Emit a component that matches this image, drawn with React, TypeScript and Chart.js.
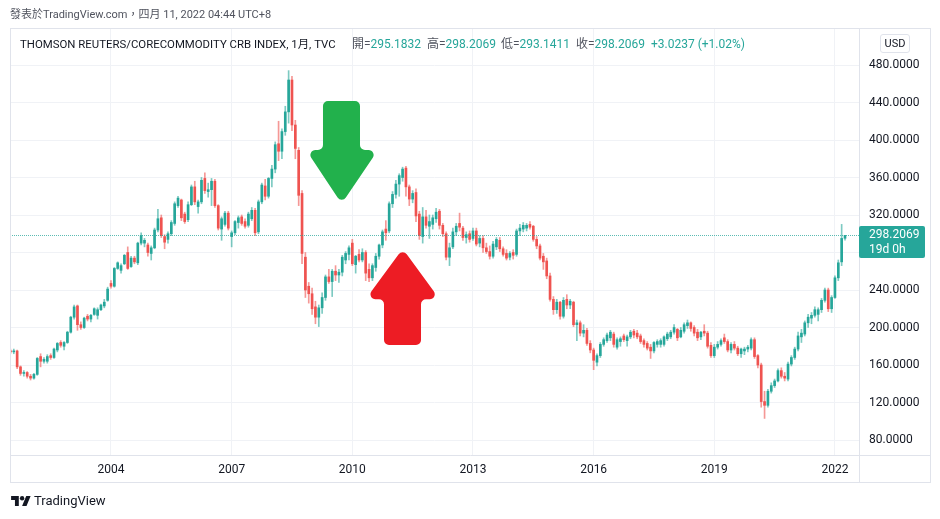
import React, { useEffect, useRef } from 'react';
import { Chart, registerables } from 'chart.js';

Chart.register(...registerables);

// ---- data (monthly candles, TR/CC CRB index) ----
const FIRST_YEAR = 2001;
const FIRST_MONTH = 7; // July 2001 is the first candle shown

const opens = [
  175, 174, 175, 158, 151, 152,
  148, 146, 150, 169, 164, 164, 170, 168, 176, 184, 180, 184,
  195, 211, 223, 203, 200, 212, 209, 214, 213, 219, 223, 229,
  247, 244, 263, 261, 268, 280, 265, 274, 269, 290, 290, 288,
  279, 285, 304, 317, 297, 294, 300, 311, 330, 336, 321, 315,
  331, 350, 329, 334, 359, 345, 347, 356, 330, 305, 310, 322,
  297, 301, 312, 318, 313, 309, 316, 325, 302, 334, 351, 340,
  359, 369, 396, 388, 409, 430, 464, 416, 389, 343, 275, 244,
  236, 222, 211, 221, 232, 254, 249, 260, 256, 259, 272, 278,
  290, 267, 278, 272, 280, 262, 253, 264, 276, 288, 305, 303,
  332, 342, 353, 360, 370, 350, 337, 344, 321, 297, 318, 308,
  310, 316, 324, 309, 300, 275, 286, 302, 311, 306, 296, 300,
  295, 303, 290, 295, 285, 281, 276, 286, 293, 284, 279, 275,
  280, 278, 303, 305, 306, 310, 308, 294, 287, 276, 271, 255,
  230, 219, 227, 212, 230, 224, 227, 203, 205, 194, 197, 183,
  176, 163, 170, 182, 186, 189, 193, 179, 185, 191, 186, 190,
  196, 194, 191, 186, 183, 179, 175, 182, 182, 182, 188, 190,
  195, 198, 190, 196, 202, 205, 200, 195, 190, 196, 194, 181,
  170, 179, 182, 189, 185, 176, 182, 178, 172, 175, 177, 178,
  187, 170, 160, 121, 117, 132, 138, 143, 154, 148, 145, 161,
  168, 177, 190, 193, 205, 210, 213, 214, 219, 229, 240, 220,
  232, 253, 270, 295.1832,
];
const highs = [
  177, 177, 176, 159, 154, 153,
  150, 151, 168, 172, 168, 171, 172, 178, 184, 186, 185, 196,
  212, 224, 224, 206, 211, 214, 214, 221, 221, 225, 230, 243,
  250, 264, 270, 268, 278, 286, 276, 276, 291, 301, 295, 290,
  287, 306, 326, 320, 299, 302, 314, 334, 340, 337, 323, 334,
  352, 356, 336, 360, 365, 354, 359, 358, 331, 318, 324, 324,
  303, 314, 319, 320, 316, 323, 328, 327, 336, 354, 358, 360,
  373, 398, 420, 412, 436, 474, 468, 421, 392, 346, 280, 248,
  242, 228, 224, 237, 256, 262, 262, 266, 262, 277, 281, 287,
  294, 277, 283, 284, 282, 268, 268, 279, 289, 304, 314, 334,
  345, 357, 364, 371, 372, 352, 346, 348, 324, 328, 325, 320,
  320, 327, 326, 311, 302, 290, 306, 311, 322, 308, 302, 303,
  306, 306, 298, 298, 290, 287, 292, 296, 296, 286, 283, 281,
  283, 305, 310, 312, 311, 313, 309, 297, 289, 279, 274, 258,
  233, 230, 228, 232, 235, 230, 228, 208, 207, 203, 199, 186,
  178, 172, 184, 189, 194, 197, 195, 189, 190, 193, 192, 197,
  198, 197, 193, 188, 185, 182, 185, 187, 188, 191, 195, 197,
  203, 199, 200, 205, 208, 206, 202, 198, 196, 203, 196, 184,
  182, 185, 188, 193, 187, 184, 185, 180, 178, 179, 181, 189,
  189, 171, 162, 132, 134, 141, 145, 156, 157, 152, 163, 170,
  179, 195, 198, 207, 214, 216, 222, 221, 231, 242, 242, 234,
  255, 272, 310, 298.2069,
];
const lows = [
  172, 172, 156, 149, 148, 146,
  144, 145, 149, 158, 162, 162, 166, 167, 174, 179, 176, 183,
  194, 209, 197, 198, 199, 207, 206, 213, 209, 218, 221, 228,
  242, 243, 262, 258, 267, 262, 264, 268, 267, 288, 286, 276,
  272, 284, 302, 296, 284, 290, 298, 309, 328, 314, 311, 313,
  330, 331, 322, 332, 343, 339, 330, 328, 304, 293, 308, 304,
  286, 299, 306, 309, 306, 307, 314, 298, 300, 332, 336, 338,
  350, 365, 378, 380, 405, 418, 410, 380, 330, 268, 232, 226,
  214, 204, 201, 215, 229, 247, 233, 250, 248, 255, 268, 272,
  266, 258, 270, 270, 250, 249, 250, 260, 273, 285, 293, 301,
  328, 338, 340, 356, 340, 330, 333, 313, 294, 290, 306, 295,
  305, 312, 305, 297, 272, 266, 284, 298, 303, 293, 290, 291,
  293, 287, 286, 280, 279, 273, 274, 283, 281, 276, 272, 272,
  273, 276, 298, 302, 303, 305, 292, 284, 272, 262, 252, 228,
  214, 215, 209, 210, 220, 220, 201, 186, 191, 190, 181, 173,
  155, 159, 168, 180, 184, 186, 179, 177, 180, 185, 180, 188,
  189, 188, 183, 179, 176, 167, 173, 179, 179, 180, 186, 188,
  193, 186, 189, 194, 199, 196, 191, 186, 187, 191, 178, 168,
  168, 177, 180, 183, 174, 173, 176, 170, 168, 171, 174, 176,
  167, 157, 115, 103, 115, 130, 136, 142, 146, 143, 143, 159,
  166, 175, 184, 191, 200, 204, 211, 207, 216, 227, 217, 216,
  231, 250, 266, 293.1411,
];
const closes = [
  174, 175, 158, 151, 152, 148,
  146, 150, 167, 164, 166, 169, 168, 177, 183, 181, 184, 195,
  211, 222, 203, 200, 210, 209, 213, 220, 219, 224, 227, 241,
  244, 263, 269, 266, 277, 263, 274, 270, 290, 298, 293, 280,
  285, 304, 316, 298, 291, 300, 312, 332, 338, 317, 313, 331,
  350, 334, 334, 357, 346, 347, 356, 330, 306, 316, 322, 306,
  301, 313, 317, 311, 308, 321, 325, 301, 334, 352, 340, 359,
  369, 395, 388, 409, 430, 464, 416, 391, 341, 279, 240, 236,
  220, 211, 221, 232, 254, 249, 260, 256, 259, 275, 279, 285,
  268, 276, 272, 280, 258, 253, 266, 276, 288, 302, 301, 332,
  342, 353, 362, 369, 350, 337, 343, 319, 298, 318, 309, 313,
  317, 323, 309, 300, 275, 285, 302, 308, 307, 296, 299, 294,
  303, 289, 295, 285, 281, 276, 289, 294, 284, 278, 274, 279,
  277, 303, 306, 309, 309, 307, 294, 287, 274, 270, 255, 230,
  219, 227, 212, 229, 224, 228, 203, 205, 194, 197, 183, 176,
  165, 170, 182, 187, 192, 195, 182, 187, 188, 187, 190, 195,
  192, 190, 185, 182, 178, 175, 184, 185, 186, 190, 193, 195,
  200, 189, 197, 203, 205, 199, 194, 189, 195, 194, 180, 170,
  179, 182, 186, 185, 176, 182, 178, 172, 177, 177, 179, 187,
  169, 160, 121, 117, 132, 138, 143, 154, 148, 146, 161, 168,
  177, 191, 194, 205, 211, 213, 219, 219, 229, 240, 220, 232,
  253, 269, 295, 298.2069,
];

const xTickYears = [2004, 2007, 2010, 2013, 2016, 2019, 2022];
const yTickValues = [80, 120, 160, 200, 240, 280, 320, 360, 400, 440, 480];
const LAST_PRICE = 298.2069;
const COUNTDOWN = '19d 0h';

// annotation arrows, in data units (year, index value)
const greenArrow = { tipT: 2009.736, tipV: 332, baseV: 389.3, headL: 2008.85, headR: 2010.64, shaftL: 2009.271, shaftR: 2010.191, endV: 441.5 };
const redArrow = { tipT: 2011.253, tipV: 284, baseV: 230.1, headL: 2010.33, headR: 2012.17, shaftL: 2010.788, shaftR: 2011.708, endV: 181.3 };

const UP = '#26a69a';
const DOWN = '#ef5350';
const UP_WICK = 'rgba(38,166,154,0.6)';
const DOWN_WICK = 'rgba(239,83,80,0.6)';
const GRID = '#f0f2f6';
const FRAME = '#e0e3eb';
const TEXT = '#131722';

const times = closes.map((_, i) => FIRST_YEAR + (FIRST_MONTH - 1 + i) / 12);

function roundedPoly(ctx: CanvasRenderingContext2D, pts: number[][], r: number) {
  const n = pts.length;
  ctx.beginPath();
  for (let i = 0; i < n; i++) {
    const p0 = pts[(i - 1 + n) % n];
    const p1 = pts[i];
    const p2 = pts[(i + 1) % n];
    if (i === 0) ctx.moveTo((p0[0] + p1[0]) / 2, (p0[1] + p1[1]) / 2);
    ctx.arcTo(p1[0], p1[1], (p1[0] + p2[0]) / 2, (p1[1] + p2[1]) / 2, r);
  }
  ctx.closePath();
}

function arrowPoints(a: typeof greenArrow, xs: any, ys: any) {
  const X = (t: number) => xs.getPixelForValue(t);
  const Y = (v: number) => ys.getPixelForValue(v);
  return [
    [X(a.shaftL), Y(a.endV)],
    [X(a.shaftR), Y(a.endV)],
    [X(a.shaftR), Y(a.baseV)],
    [X(a.headR), Y(a.baseV)],
    [X(a.tipT), Y(a.tipV)],
    [X(a.headL), Y(a.baseV)],
    [X(a.shaftL), Y(a.baseV)],
  ];
}

const overlayPlugin = {
  id: 'overlay',
  afterDatasetsDraw(chart: any) {
    const { ctx, chartArea, scales } = chart;
    const xs = scales.x;
    const ys = scales.y;
    ctx.save();
    // current price dotted line
    const py = Math.round(ys.getPixelForValue(LAST_PRICE)) + 0.5;
    ctx.strokeStyle = 'rgba(38,166,154,0.75)';
    ctx.lineWidth = 1;
    ctx.setLineDash([1, 1]);
    ctx.beginPath();
    ctx.moveTo(chartArea.left, py);
    ctx.lineTo(chartArea.right, py);
    ctx.stroke();
    ctx.setLineDash([]);
    // arrows
    ctx.fillStyle = '#22b14c';
    roundedPoly(ctx, arrowPoints(greenArrow, xs, ys), 5);
    ctx.fill();
    ctx.fillStyle = '#ed1c24';
    roundedPoly(ctx, arrowPoints(redArrow, xs, ys), 5);
    ctx.fill();
    ctx.restore();
  },
  afterDraw(chart: any) {
    const { ctx, chartArea, scales } = chart;
    const ys = scales.y;
    ctx.save();
    // frame
    ctx.strokeStyle = FRAME;
    ctx.lineWidth = 1;
    const L = 10.5, T = 28.5, R = 930.5, B = 482.5;
    ctx.strokeRect(L, T, R - L, B - T);
    ctx.beginPath();
    ctx.moveTo(chartArea.right + 0.5, T);
    ctx.lineTo(chartArea.right + 0.5, B);
    ctx.moveTo(L, chartArea.bottom + 0.5);
    ctx.lineTo(R, chartArea.bottom + 0.5);
    ctx.stroke();
    // price label
    const py = ys.getPixelForValue(LAST_PRICE);
    const bx = chartArea.right;
    const by = Math.round(py) - 9;
    ctx.fillStyle = UP;
    ctx.beginPath();
    ctx.roundRect(bx, by, 66, 32, 2);
    ctx.fill();
    ctx.fillStyle = '#ffffff';
    ctx.font = '12px Roboto';
    ctx.textAlign = 'left';
    ctx.textBaseline = 'middle';
    ctx.fillText(LAST_PRICE.toFixed(4), bx + 10, by + 9);
    ctx.fillText(COUNTDOWN, bx + 10, by + 24);
    ctx.restore();
  },
};

export default function App() {
  const ref = useRef<HTMLCanvasElement | null>(null);
  useEffect(() => {
    if (!ref.current) return;
    Chart.defaults.font.family = 'Roboto';
    const chart = new Chart(ref.current, {
      type: 'bar',
      data: {
        datasets: [
          {
            label: 'wick',
            data: times.map((t, i) => ({ x: t, y: [lows[i], highs[i]] })) as any,
            backgroundColor: (c: any) => (closes[c.dataIndex] >= opens[c.dataIndex] ? UP_WICK : DOWN_WICK),
            barThickness: 1,
            grouped: false,
            order: 2,
          } as any,
          {
            label: 'body',
            data: times.map((t, i) => ({ x: t, y: [opens[i], closes[i]] })) as any,
            backgroundColor: (c: any) => (closes[c.dataIndex] >= opens[c.dataIndex] ? UP : DOWN),
            barThickness: 2,
            minBarLength: 1,
            grouped: false,
            order: 1,
          } as any,
        ],
      },
      options: {
        responsive: false,
        animation: false,
        devicePixelRatio: 1,
        layout: { padding: { left: 10, top: 28, right: 10, bottom: 37 } },
        plugins: { legend: { display: false }, tooltip: { enabled: false } },
        scales: {
          x: {
            type: 'linear',
            min: 2001.489,
            max: 2022.598,
            offset: false,
            grid: { color: GRID, drawTicks: false, offset: false },
            border: { display: false },
            ticks: {
              padding: 8,
              color: TEXT,
              font: { size: 12 },
              autoSkip: false,
              maxRotation: 0,
              callback: (v: any) => String(v),
            },
            afterBuildTicks: (s: any) => {
              s.ticks = xTickYears.map((v) => ({ value: v }));
            },
            afterFit: (s: any) => {
              s.height = 27;
            },
          },
          y: {
            type: 'linear',
            position: 'right',
            min: 64,
            max: 519.47,
            grid: { color: GRID, drawTicks: false },
            border: { display: false },
            ticks: {
              padding: 10,
              color: TEXT,
              font: { size: 12 },
              callback: (v: any) => Number(v).toFixed(4),
            },
            afterBuildTicks: (s: any) => {
              s.ticks = yTickValues.map((v) => ({ value: v }));
            },
            afterFit: (s: any) => {
              s.width = 71;
            },
          },
        },
      } as any,
      plugins: [overlayPlugin],
    });
    return () => chart.destroy();
  }, []);

  const base: React.CSSProperties = {
    position: 'absolute',
    fontFamily: 'Roboto, "Noto Sans CJK TC", sans-serif',
    whiteSpace: 'nowrap',
    lineHeight: '14px',
  };
  const lbl: React.CSSProperties = { color: '#50535e' };
  const val: React.CSSProperties = { color: UP };

  return (
    <div style={{ position: 'fixed', left: 0, top: 0, width: 940, height: 519, background: '#ffffff', overflow: 'hidden' }}>
      <canvas ref={ref} width={940} height={519} style={{ position: 'absolute', left: 0, top: 0 }} />
      <div style={{ ...base, left: 10, top: 8, fontSize: 11, color: '#50535e' }}>
        發表於TradingView.com，四月 11, 2022 04:44 UTC+8
      </div>
      <div style={{ ...base, left: 20, top: 37, fontSize: 11.4, color: TEXT }}>
        THOMSON REUTERS/CORECOMMODITY CRB INDEX, 1月, TVC
      </div>
      <div style={{ ...base, left: 352, top: 37, fontSize: 12 }}>
        <span style={lbl}>開=</span><span style={val}>295.1832</span>
      </div>
      <div style={{ ...base, left: 427, top: 37, fontSize: 12 }}>
        <span style={lbl}>高=</span><span style={val}>298.2069</span>
      </div>
      <div style={{ ...base, left: 501, top: 37, fontSize: 12 }}>
        <span style={lbl}>低=</span><span style={val}>293.1411</span>
      </div>
      <div style={{ ...base, left: 576, top: 37, fontSize: 12 }}>
        <span style={lbl}>收=</span><span style={val}>298.2069</span>
      </div>
      <div style={{ ...base, left: 651, top: 37, fontSize: 12, color: UP }}>+3.0237 (+1.02%)</div>
      <div
        style={{
          ...base,
          left: 880,
          top: 34,
          width: 28,
          height: 17,
          lineHeight: '17px',
          border: '1px solid #e0e3eb',
          borderRadius: 3,
          fontSize: 11,
          color: TEXT,
          textAlign: 'center',
        }}
      >
        USD
      </div>
      <svg style={{ position: 'absolute', left: 11, top: 495 }} width="20" height="11" viewBox="0 0 36 20">
        <path d="M14 20H7V9H0V2h14v18z" fill={TEXT} />
        <circle cx="20" cy="6" r="4" fill={TEXT} />
        <path d="M28 20h-8l7.5-18h8L28 20z" fill={TEXT} />
      </svg>
      <div style={{ ...base, left: 34, top: 494, fontSize: 13, color: TEXT }}>TradingView</div>
    </div>
  );
}
